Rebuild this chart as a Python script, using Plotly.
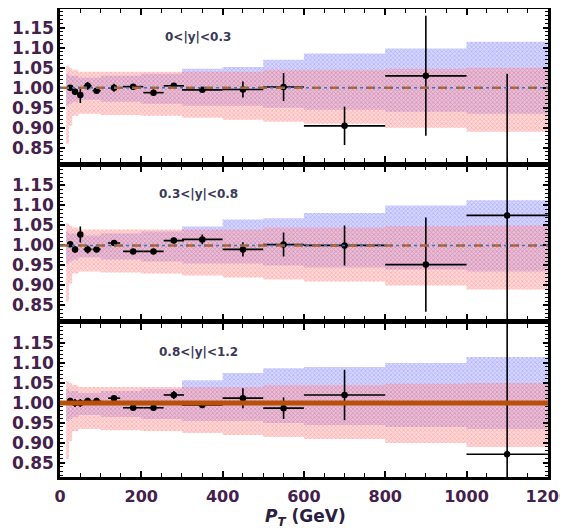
import plotly.graph_objects as go
from plotly.subplots import make_subplots

# ---------------- data ----------------
pt = [25, 37, 50, 68, 90, 133, 180, 230, 280, 350, 450, 550, 700, 900, 1100]
pt_err = [5, 5, 5, 10, 10, 15, 25, 25, 25, 50, 50, 50, 100, 100, 100]

ratio_y1 = [1.000, 0.990, 0.982, 1.005, 0.993, 1.000, 1.003, 0.988, 1.005, 0.995, 0.996, 1.002, 0.905, 1.030, 0.780]
err_y1 = [0.006, 0.008, 0.020, 0.010, 0.006, 0.010, 0.006, 0.008, 0.007, 0.006, 0.020, 0.035, 0.048, 0.150, 0.255]

ratio_y2 = [1.003, 0.990, 1.027, 0.990, 0.990, 1.006, 0.985, 0.985, 1.012, 1.015, 0.990, 1.002, 1.000, 0.952, 1.075]
err_y2 = [0.006, 0.008, 0.020, 0.010, 0.007, 0.006, 0.006, 0.006, 0.007, 0.012, 0.018, 0.030, 0.050, 0.118, 0.300]

ratio_y3 = [1.005, 1.000, 1.000, 1.005, 1.005, 1.012, 0.988, 0.988, 1.020, 0.995, 1.012, 0.987, 1.020, None, 0.872]
err_y3 = [0.008, 0.010, 0.010, 0.008, 0.008, 0.008, 0.006, 0.006, 0.010, 0.008, 0.025, 0.027, 0.063, None, 0.350]

band_edges = [15, 22, 30, 45, 60, 100, 200, 300, 400, 500, 600, 800, 1000, 1200]

blue_lo = [0.955, 0.960, 0.965, 0.970, 0.970, 0.965, 0.960, 0.955, 0.955, 0.950, 0.945, 0.940, 0.935]
blue_hi1 = [1.035, 1.030, 1.030, 1.025, 1.025, 1.030, 1.035, 1.048, 1.052, 1.070, 1.086, 1.098, 1.115]
blue_hi2 = [1.035, 1.030, 1.030, 1.025, 1.025, 1.030, 1.035, 1.047, 1.065, 1.068, 1.081, 1.100, 1.113]
blue_hi3 = [1.035, 1.030, 1.030, 1.025, 1.025, 1.030, 1.035, 1.057, 1.075, 1.087, 1.090, 1.100, 1.115]

red_lo = [0.860, 0.905, 0.930, 0.935, 0.935, 0.932, 0.930, 0.925, 0.920, 0.915, 0.910, 0.900, 0.890]
red_hi = [1.055, 1.050, 1.045, 1.040, 1.040, 1.040, 1.040, 1.040, 1.040, 1.045, 1.045, 1.048, 1.050]

rap_labels = ["0<|y|<0.3", "0.3<|y|<0.8", "0.8<|y|<1.2"]
y_ticks = [0.85, 0.90, 0.95, 1.00, 1.05, 1.10, 1.15]
x_ticks = [0, 200, 400, 600, 800, 1000, 1200]

panels = [
    (ratio_y1, err_y1, blue_hi1),
    (ratio_y2, err_y2, blue_hi2),
    (ratio_y3, err_y3, blue_hi3),
]

# ---------------- figure ----------------
fig = make_subplots(rows=3, cols=1, shared_xaxes=True, vertical_spacing=0.01)

def step(vals):
    return vals + [vals[-1]]

for i, (yv, ye, bhi) in enumerate(panels, start=1):
    # blue band
    fig.add_trace(go.Scatter(x=band_edges, y=step(blue_lo), mode="lines", line=dict(width=0, shape="hv"),
                             showlegend=False, hoverinfo="skip"), row=i, col=1)
    fig.add_trace(go.Scatter(x=band_edges, y=step(bhi), mode="lines", line=dict(width=0, shape="hv"),
                             fill="tonexty", fillcolor="rgba(150,150,255,0.5)",
                             fillpattern=dict(shape="x", size=3, solidity=0.4,
                                              fgcolor="rgba(80,80,255,0.6)",
                                              bgcolor="rgba(165,165,255,0.45)"),
                             showlegend=False, hoverinfo="skip"), row=i, col=1)
    # red band
    fig.add_trace(go.Scatter(x=band_edges, y=step(red_lo), mode="lines", line=dict(width=0, shape="hv"),
                             showlegend=False, hoverinfo="skip"), row=i, col=1)
    fig.add_trace(go.Scatter(x=band_edges, y=step(red_hi), mode="lines", line=dict(width=0, shape="hv"),
                             fill="tonexty", fillcolor="rgba(255,130,130,0.45)",
                             fillpattern=dict(shape="x", size=3, solidity=0.4,
                                              fgcolor="rgba(255,70,70,0.6)",
                                              bgcolor="rgba(255,160,160,0.4)"),
                             showlegend=False, hoverinfo="skip"), row=i, col=1)
    # data points
    fig.add_trace(go.Scatter(x=pt, y=yv, mode="markers",
                             marker=dict(color="black", size=6.5),
                             error_x=dict(type="data", array=pt_err, color="black", thickness=1.6, width=0),
                             error_y=dict(type="data", array=ye, color="black", thickness=1.6, width=0),
                             showlegend=False), row=i, col=1)
    # reference line at 1
    if i < 3:
        fig.add_hline(y=1.0, line=dict(color="#d2600e", width=2.5, dash="dash"), row=i, col=1)
        fig.add_hline(y=1.0, line=dict(color="#3a78b8", width=1.5, dash="dot"), row=i, col=1)
    else:
        fig.add_hline(y=1.0, line=dict(color="#b8500a", width=5), row=i, col=1)
    fig.add_annotation(x=340, y=1.128, xref=f"x{'' if i == 1 else i}", yref=f"y{'' if i == 1 else i}",
                       text=rap_labels[i - 1], showarrow=False,
                       font=dict(family="DejaVu Sans", size=12, weight="bold", color="#3a3a58"))

tick_color = "#44204c"
for i in range(1, 4):
    fig.update_yaxes(range=[0.815, 1.197], tickvals=y_ticks, tickformat=".2f",
                     ticks="inside", ticklen=5, tickwidth=1.5, tickcolor="black",
                     minor=dict(dtick=0.01, ticks="inside", ticklen=3, tickcolor="black", tickwidth=1),
                     showline=True, linewidth=2.5, linecolor="black", mirror="allticks",
                     showgrid=False, zeroline=False, automargin=False,
                     tickfont=dict(family="DejaVu Sans", size=17, weight="bold", color=tick_color),
                     row=i, col=1)
    fig.update_xaxes(range=[0, 1200.5], tickvals=x_ticks,
                     ticks="inside", ticklen=6, tickwidth=1.5, tickcolor="black",
                     minor=dict(dtick=50, ticks="inside", ticklen=4, tickcolor="black", tickwidth=1.2),
                     showline=True, linewidth=2.5, linecolor="black", mirror="allticks",
                     showgrid=False, zeroline=False, automargin=False,
                     showticklabels=(i == 3), ticklabelstandoff=3, ticklabeloverflow="allow",
                     tickfont=dict(family="DejaVu Sans", size=16, weight="bold", color=tick_color),
                     row=i, col=1)

fig.add_annotation(x=0.504, y=-0.0855, xref="paper", yref="paper", yanchor="middle",
                   text="<i>P</i><sub><i>T</i></sub> (GeV)", showarrow=False,
                   font=dict(family="DejaVu Sans", size=17, weight="bold", color="#2a2040"))

# the page body adds an 8 px offset; size the figure so the plot lands where the reference has it
fig.update_layout(width=560, height=520, margin=dict(l=52, r=20, t=1, b=51),
                  plot_bgcolor="white", paper_bgcolor="white", showlegend=False)

fig.write_html("out.html")
